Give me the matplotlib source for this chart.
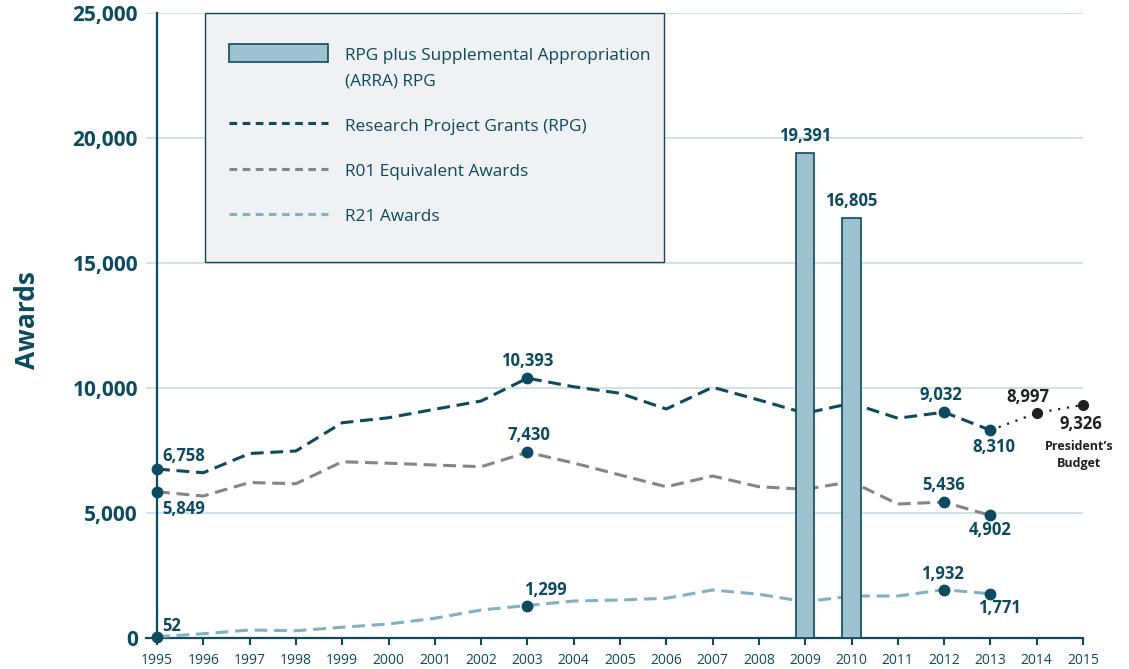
import numpy as np
import matplotlib.pyplot as plt
from matplotlib.patches import Rectangle, Patch
from matplotlib.lines import Line2D
from matplotlib.legend_handler import HandlerPatch

plt.rcParams['font.family'] = ['Open Sans', 'DejaVu Sans']

# data
years = list(range(1995, 2014))
rpg = [6758, 6610, 7380, 7480, 8610, 8810, 9150, 9480, 10393, 10050,
       9790, 9160, 10030, 9520, 8990, 9390, 8790, 9032, 8310]
r01 = [5849, 5680, 6220, 6170, 7050, 6990, 6920, 6850, 7430, 7000,
       6520, 6050, 6480, 6050, 5950, 6250, 5360, 5436, 4902]
r21 = [52, 170, 320, 290, 430, 560, 790, 1120, 1299, 1480,
       1520, 1590, 1920, 1750, 1450, 1680, 1680, 1932, 1771]
proj_years = [2013, 2014, 2015]
proj_rpg = [8310, 8997, 9326]
arra_years = [2009, 2010]
arra_rpg = [19391, 16805]
xticks = list(range(1995, 2016))

teal = '#0b4a60'
gray = '#858587'
light = '#80b1c4'
barc = '#9ec2d0'
gridc = '#c6dde6'
dark = '#231f20'

fig = plt.figure(figsize=(11.29, 6.69), dpi=100)
ax = fig.add_axes([146 / 1129, 31 / 669, 937 / 1129, 625 / 669])

ax.set_xlim(1994.762, 2015)
ax.set_ylim(0, 25000)

for s in ['top', 'right']:
    ax.spines[s].set_visible(False)
ax.spines['left'].set_position(('data', 1995))
ax.spines['left'].set_color(teal)
ax.spines['left'].set_linewidth(1.6)
ax.spines['bottom'].set_color(teal)
ax.spines['bottom'].set_linewidth(1.6)

ax.set_yticks(range(0, 25001, 5000))
ax.set_yticklabels([f'{v:,}' for v in range(0, 25001, 5000)])
ax.tick_params(axis='y', length=0, pad=13.7, labelsize=15, labelcolor=teal)
for t in ax.get_yticklabels():
    t.set_fontweight('bold')
ax.set_xticks(xticks)
ax.set_xticklabels([str(y) for y in xticks])
ax.tick_params(axis='x', length=5, width=1.5, color=teal, pad=6,
               labelsize=10, labelcolor=teal)
ax.grid(axis='y', color=gridc, lw=1.2, zorder=0)
ax.set_axisbelow(True)

ax.set_ylabel('Awards', fontsize=19, fontweight='bold', color=teal)
ax.yaxis.set_label_coords(-0.112, 0.509)

# lines
ax.plot(years, rpg, color=teal, lw=2.2, dashes=(4.2, 2.2), zorder=3)
ax.plot(years, r01, color=gray, lw=2.2, dashes=(4.2, 2.2), zorder=3)
ax.plot(years, r21, color=light, lw=2.2, dashes=(4.2, 2.2), zorder=3)
ax.plot(proj_years, proj_rpg, color=dark, lw=1.6, ls=(0, (1, 3)), zorder=3)

# bars
ax.bar(arra_years, arra_rpg, width=0.4, color=barc, edgecolor=teal, lw=1.2, zorder=4)

# markers
idx = [0, 8, 17, 18]
for ser in [rpg, r01, r21]:
    ax.plot([years[i] for i in idx], [ser[i] for i in idx], 'o', color=teal,
            ms=7.5, zorder=5, clip_on=False)
ax.plot(proj_years[1:], proj_rpg[1:], 'o', color=dark, ms=7, zorder=5, clip_on=False)

# labels
def lab(x, y, dx, dy, ha='center', color=teal, size=12, text=None, ls=1.2):
    ax.annotate(text if text else f'{y:,}', (x, y), xytext=(dx, dy),
                textcoords='offset pixels', ha=ha, va='center', linespacing=ls,
                fontsize=size, fontweight='bold', color=color, zorder=6)

lab(1995, rpg[0], 5, 13, ha='left')
lab(1995, r01[0], 5, -17, ha='left')
lab(1995, r21[0], 5, 11, ha='left')
lab(2003, rpg[8], 0, 17)
lab(2003, r01[8], 2, 17)
lab(2003, r21[8], 18, 16)
lab(2012, rpg[17], -3, 17)
lab(2013, rpg[18], 3, -17)
lab(2012, r01[17], 0, 17)
lab(2013, r01[18], 0, -15)
lab(2012, r21[17], -2, 16)
lab(2013, r21[18], 9, -14)
lab(2014, proj_rpg[1], -9, 16, color=dark)
lab(2015, proj_rpg[2], -2, -19, color=dark)
lab(2015, proj_rpg[2], -4, -50, color=dark, size=9, text='President\u2019s\nBudget', ls=1.35)
lab(2009, arra_rpg[0], 0, 17)
lab(2010, arra_rpg[1], 0, 17)

# legend box
ax.add_patch(Rectangle((59 / 937, 0.6016), 459 / 937, 0.3984, transform=ax.transAxes,
                       facecolor='#eff1f2', edgecolor=teal, lw=1.0, zorder=6, clip_on=False))


def top_patch(legend, orig_handle, xdescent, ydescent, width, height, fontsize):
    return Rectangle((-xdescent, -ydescent + 11.5), width, height)


handles = [
    Patch(facecolor=barc, edgecolor=teal, lw=1.2),
    Line2D([], [], color=teal, lw=2.2, dashes=(2.5, 1.8)),
    Line2D([], [], color=gray, lw=2.2, dashes=(2.5, 1.8)),
    Line2D([], [], color=light, lw=2.2, dashes=(2.5, 1.8)),
]
labels = ['RPG plus Supplemental Appropriation\n(ARRA) RPG',
          'Research Project Grants (RPG)',
          'R01 Equivalent Awards',
          'R21 Awards']
leg = ax.legend(handles, labels, loc='upper left', bbox_to_anchor=(83 / 937, 0.944),
                frameon=False, handlelength=5.75, handleheight=1.2,
                handletextpad=1.0, labelspacing=1.55, borderpad=0, borderaxespad=0,
                prop={'size': 12.4},
                handler_map={Patch: HandlerPatch(patch_func=top_patch)})
for t in leg.get_texts():
    t.set_color(teal)
    t.set_linespacing(1.77)
leg.set_zorder(7)

plt.savefig('out.png', dpi=100)
